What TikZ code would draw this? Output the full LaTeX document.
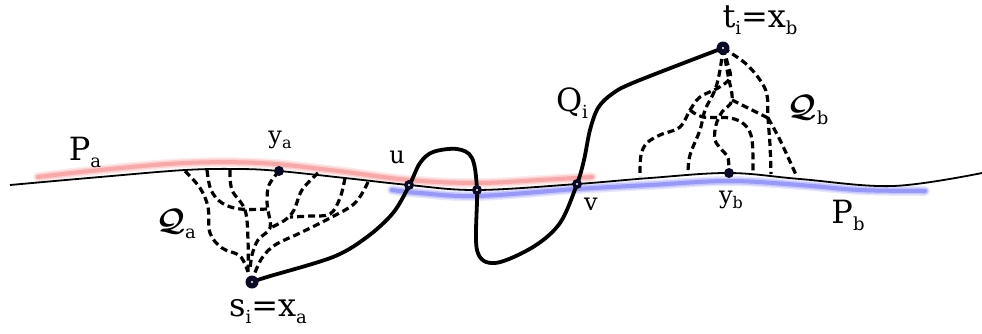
\documentclass[tikz,border=0pt]{standalone}
\usepackage{graphicx}
\usepackage{bm}
\usepackage{fontspec}
\setmainfont{DejaVu Serif}
\newcommand\BL[2]{{\fontsize{32}{34}\selectfont #1}\raisebox{-7pt}{\fontsize{18}{19}\selectfont #2}}
\newcommand\SL[2]{{\fontsize{24}{26}\selectfont #1}\raisebox{-5pt}{\fontsize{16}{17}\selectfont #2}}
\newcommand\CL[1]{\scalebox{3.1}{$\bm{\mathcal{Q}}$}\raisebox{-8pt}{\fontsize{18}{19}\selectfont #1}}
\newcommand\EQ{{\fontsize{32}{34}\selectfont =}}
\definecolor{dotc}{HTML}{0B0B25}
\definecolor{hred}{HTML}{F06060}
\definecolor{hblue}{HTML}{4040F0}
\tikzset{
  baseline/.style={line width=1.8pt,black},
  qpath/.style={line width=3.8pt,black,line cap=round,line join=round},
  dpath/.style={line width=3.2pt,black,dash pattern=on 7pt off 4pt},
  bigdot/.style={circle,fill=dotc,inner sep=0pt,minimum size=13pt},
  smalldot/.style={circle,fill=dotc,inner sep=0pt,minimum size=10pt},
  lbl/.style={inner sep=0pt,text=black}
}
\begin{document}
\begin{tikzpicture}[x=1pt,y=-1pt]
\useasboundingbox (0,0) rectangle (982,333);
% highlights
\foreach \w/\o in {10/0.12,7/0.2,4/0.35}{
\draw[hred,line width=\w pt,opacity=\o,line cap=round] plot[smooth,tension=0.6] coordinates {(38,177) (100,170) (185,163) (260,163) (330,170) (409,180) (477,183) (540,180) (592,177)};
\draw[hblue,line width=\w pt,opacity=\o,line cap=round] plot[smooth,tension=0.6] coordinates {(392,190) (420,193) (477,196) (577,189) (650,185) (729,181) (800,185) (860,190) (925,191)};
}
% base line
\draw[baseline] plot[smooth,tension=0.6] coordinates {(10,185) (100,177) (185,170) (240,169) (279,171) (345,178) (409,185) (477,190) (577,184) (650,178) (729,173) (800,179) (893,186) (982,173)};
% Q_a tree
\draw[dpath] plot[smooth,tension=0.6] coordinates {(185,171) (200,188) (208,207) (210,233) (222,248) (240,256) (248,272)};
\draw[dpath] plot[smooth,tension=0.6] coordinates {(207,170) (211,190) (222,203) (240,209) (267,209)};
\draw[dpath] plot[smooth,tension=0.6] coordinates {(230,170) (232,190) (245,210) (248,240) (248,274)};
\draw[dpath] plot[smooth,tension=0.6] coordinates {(279,171) (269,185) (267,200) (268,210) (270,228) (258,240) (252,255) (250,270)};
\draw[dpath] plot[smooth,tension=0.6] coordinates {(318,173) (302,190) (294,210) (285,220) (270,228)};
\draw[dpath] plot[smooth,tension=0.6] coordinates {(345,178) (340,198) (330,214) (310,216) (290,217)};
\draw[dpath] plot[smooth,tension=0.6] coordinates {(368,182) (355,203) (330,218) (300,233) (275,245) (262,258) (254,275)};
% Q_b tree
\draw[dpath] plot[smooth,tension=0.6] coordinates {(723,48) (728,65) (730,78) (718,88) (700,97) (690,110) (680,127) (660,135) (647,143) (641,155) (640,177)};
\draw[dpath] plot[smooth,tension=0.6] coordinates {(723,48) (720,70) (715,90) (705,110) (700,130) (690,155) (688,173)};
\draw[dpath] plot[smooth,tension=0.6] coordinates {(723,48) (728,75) (732,100) (722,112) (716,125) (715,140) (722,150) (728,158) (729,173)};
\draw[dpath] plot[smooth,tension=0.6] coordinates {(690,110) (703,117) (730,118) (745,125) (752,140) (753,173)};
\draw[dpath] (732,100) -- (768,118);
\draw[dpath] plot[smooth,tension=0.6] coordinates {(723,48) (745,63) (760,80) (767,95) (768,118) (770,145) (771,174)};
\draw[dpath] plot[smooth,tension=0.6] coordinates {(768,118) (780,140) (797,177)};
% Q_i
\draw[qpath] plot[smooth,tension=0.55] coordinates {(252,282) (267,277) (333,257) (367,237) (393,213) (409,186) (420,163) (433,152) (457,149) (472,158) (477,190) (477,250) (495,263) (533,247) (560,223) (577,184) (584,160) (590,130) (598,108) (612,94) (635,82) (723,48)};
% dots
\node[bigdot] (si) at (252,282) {};
\node[bigdot] (ti) at (723,48) {};
\node[smalldot] (u) at (409,185) {};
\node[smalldot] (m) at (477,190) {};
\node[smalldot] (v) at (577,184) {};
\node[smalldot] (ya) at (279,171) {};
\node[smalldot] (yb) at (729,173) {};
\foreach \n in {si,ti,u,m,v}{\fill[white] (\n) circle (1.2pt);}
% labels
\node[lbl] (Pa) at (85,152) {\BL{P}{a}};
\node[lbl] (yal) at (280,140) {\SL{y}{a}};
\node[lbl] (ul) at (397,160) {\SL{u}{}};
\node[lbl] (Qa) at (176,224) {\CL{a}};
\node[lbl] (sil) at (268,312) {\BL{s}{i}\EQ\BL{x}{a}};
\node[lbl] (vl) at (591,207) {\SL{v}{}};
\node[lbl] (Qi) at (572,103) {\BL{Q}{i}};
\node[lbl] (til) at (760,20) {\BL{t}{i}\EQ\BL{x}{b}};
\node[lbl] (Qb) at (808,110) {\CL{b}};
\node[lbl] (ybl) at (731,200) {\SL{y}{b}};
\node[lbl] (Pb) at (848,215) {\BL{P}{b}};
\end{tikzpicture}
\end{document}
